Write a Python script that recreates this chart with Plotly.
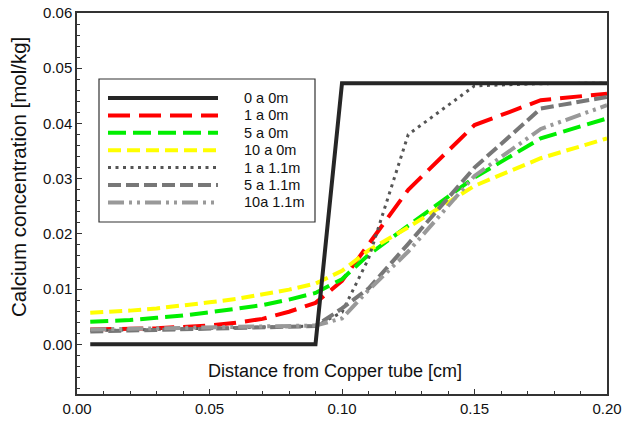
import plotly.graph_objects as go

# ---- data ----
distance_cm = [0.005, 0.01, 0.02, 0.03, 0.04, 0.05, 0.06, 0.07, 0.08, 0.09,
               0.10, 0.11, 0.125, 0.15, 0.175, 0.20]

s_0a0m = [0.0, 0.0, 0.0, 0.0, 0.0, 0.0, 0.0, 0.0, 0.0, 0.0,
          0.0473, 0.0473, 0.0473, 0.0473, 0.0473, 0.0473]
s_1a0m = [0.0027, 0.0027, 0.0028, 0.0029, 0.0031, 0.0034, 0.0039, 0.0046, 0.0059, 0.0075,
          0.0115, 0.0182, 0.0280, 0.0397, 0.0442, 0.0454]
s_5a0m = [0.0041, 0.0042, 0.0044, 0.0048, 0.0052, 0.0058, 0.0064, 0.0071, 0.0081, 0.0093,
          0.0118, 0.0162, 0.0215, 0.0302, 0.0373, 0.0409]
s_10a0m = [0.0057, 0.0058, 0.0061, 0.0065, 0.0070, 0.0076, 0.0082, 0.0090, 0.0099, 0.0110,
           0.0133, 0.0170, 0.0212, 0.0287, 0.0337, 0.0373]
s_1a11m = [0.0025, 0.0025, 0.0026, 0.0027, 0.0028, 0.0029, 0.0030, 0.0031, 0.0032, 0.0033,
           0.0058, 0.0155, 0.0380, 0.0468, 0.0472, 0.0473]
s_5a11m = [0.0023, 0.0024, 0.0025, 0.0026, 0.0027, 0.0028, 0.0029, 0.0030, 0.0031, 0.0033,
           0.0065, 0.0101, 0.0182, 0.0320, 0.0427, 0.0448]
s_10a11m = [0.0027, 0.0027, 0.0028, 0.0029, 0.0030, 0.0031, 0.0032, 0.0033, 0.0033, 0.0034,
            0.0047, 0.0098, 0.0168, 0.0305, 0.0390, 0.0433]

series_names = ["0 a 0m", "1 a 0m", "5 a 0m", "10 a 0m", "1 a 1.1m", "5 a 1.1m", "10a 1.1m"]
series_values = [s_0a0m, s_1a0m, s_5a0m, s_10a0m, s_1a11m, s_5a11m, s_10a11m]

# ---- styles ----
colors = ["#262626", "#ff0000", "#00ee00", "#ffff00", "#555555", "#777777", "#999999"]
dashes = ["solid", "22px,9px", "18px,7px", "13px,6px", "3px,4.5px", "13px,5px",
          "16px,5px,3px,5px,3px,5px"]
widths = [4, 4, 4, 4, 3, 4, 4]

FONT = "Liberation Sans, Arial, sans-serif"

fig = go.Figure()
# draw black reference line last so it sits on top
order = [1, 2, 3, 4, 5, 6, 0]
for i in order:
    fig.add_trace(go.Scatter(
        x=distance_cm, y=series_values[i], mode="lines", name=series_names[i],
        line=dict(color=colors[i], width=widths[i], dash=dashes[i]),
        showlegend=False,
    ))

# ---- custom legend (long line samples like the original) ----
L, R, T, B = 77, 16, 13, 27
W, H = 623, 421
pw, ph = W - L - R, H - T - B

def px_x(px):
    return (px - L) / pw

def px_y(py):
    return (H - B - py) / ph

shapes = [dict(type="rect", xref="paper", yref="paper",
               x0=px_x(99), x1=px_x(315), y0=px_y(222), y1=px_y(79),
               line=dict(color="#333333", width=1.2), fillcolor="white", layer="above")]
annotations = []
for i, name in enumerate(series_names):
    yy = px_y(98 + i * 17.4)
    shapes.append(dict(type="line", xref="paper", yref="paper",
                       x0=px_x(108), x1=px_x(218), y0=yy, y1=yy, layer="above",
                       line=dict(color=colors[i], width=widths[i], dash=dashes[i])))
    annotations.append(dict(text=name, xref="paper", yref="paper", x=px_x(242), y=yy,
                            xanchor="left", yanchor="middle", showarrow=False,
                            font=dict(family=FONT, size=14.5, color="#111111")))

annotations.append(dict(text="Distance from Copper tube [cm]", xref="paper", yref="paper",
                        x=px_x(335), y=px_y(371), xanchor="center", yanchor="middle",
                        showarrow=False, font=dict(family=FONT, size=18, color="#111111")))
annotations.append(dict(text="Calcium concentration [mol/kg]", xref="paper", yref="paper",
                        x=px_x(18), y=px_y(177), xanchor="center", yanchor="middle",
                        textangle=-90, showarrow=False,
                        font=dict(family=FONT, size=20.5, color="#111111")))

fig.update_layout(
    width=W, height=H,
    margin=dict(l=L, r=R, t=T, b=B, pad=0, autoexpand=False),
    paper_bgcolor="white", plot_bgcolor="white",
    font=dict(family=FONT, size=15, color="#111111"),
    shapes=shapes, annotations=annotations,
    showlegend=False,
)
fig.update_xaxes(
    range=[0, 0.20], tickmode="linear", tick0=0, dtick=0.05, tickformat=".2f",
    ticks="inside", ticklen=5, tickwidth=1, tickcolor="#333333",
    minor=dict(ticks="inside", ticklen=3, dtick=0.01, tickcolor="#333333"),
    showline=True, linecolor="#333333", linewidth=1.5, mirror=True,
    showgrid=False, zeroline=False, tickfont=dict(size=15), automargin=False,
)
fig.update_yaxes(
    range=[-0.009, 0.06], tickmode="linear", tick0=0, dtick=0.01, tickformat=".2f",
    ticks="inside", ticklen=5, tickwidth=1, tickcolor="#333333",
    minor=dict(ticks="inside", ticklen=3, dtick=0.002, tickcolor="#333333"),
    showline=True, linecolor="#333333", linewidth=1.5, mirror=True,
    showgrid=False, zeroline=False, tickfont=dict(size=15), automargin=False,
)

# remove the browser's default 8px body margin so the figure sits at the window origin
fig.write_html("out.html",
               config={"displayModeBar": False},
               post_script="document.body.style.margin='0px';document.body.style.overflow='hidden';")
